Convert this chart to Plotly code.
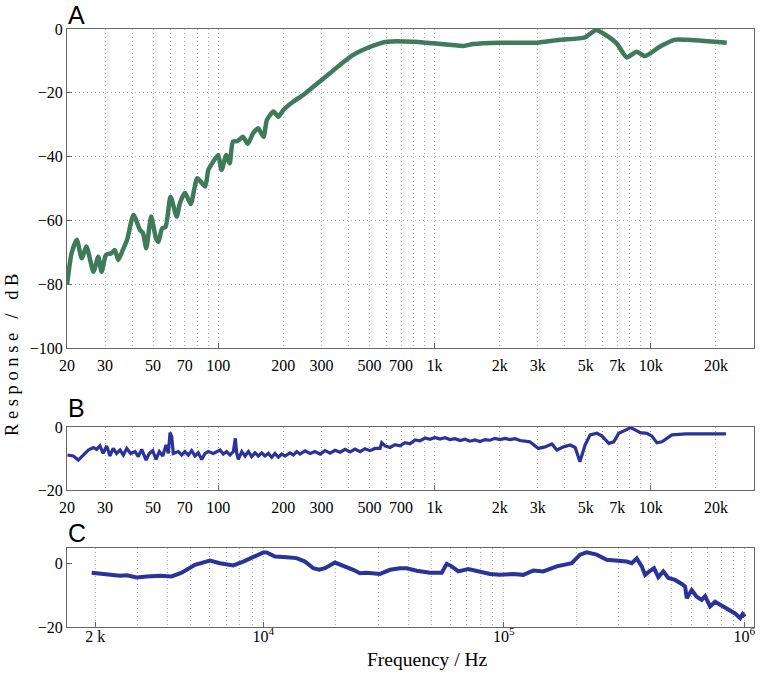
import plotly.graph_objects as go

# ---------------- data ----------------
# Panel A (green): frequency (Hz) and response (dB)
a_freq = [20, 21.0, 22.2, 23.4, 24.6, 26.5, 27.9, 28.9, 30.3, 32.1, 33.3, 34.5, 36.2, 37.9,
          40.6, 43.5, 44.9, 46.5, 49.0, 51.6, 53.0, 55.0, 57.1, 60.2, 64.3, 66.5, 70.2, 74.6,
          80.1, 87.0, 90.0, 94.8, 100, 103.6, 109, 113, 117, 123, 130, 137, 145, 153, 162,
          168, 180, 190, 200, 222, 247, 275, 294, 328, 365, 419, 483, 560, 601, 798, 988,
          1358, 1510, 2008, 2970, 3800, 4970, 5580, 6030, 6950, 7740, 8610, 9400, 11030,
          12850, 14560, 22440]
a_db = [-80.2, -70.3, -66.1, -71.9, -68.2, -76.1, -71.4, -76.1, -70.8, -70.3, -69.3, -72.4, -69.3, -66.1,
        -58.3, -63.0, -64.0, -68.7, -58.8, -65.6, -66.7, -62.5, -62.0, -52.6, -58.8, -54.6, -51.3, -54.9,
        -46.8, -49.4, -44.2, -41.6, -39.5, -44.2, -39.5, -42.1, -35.3, -35.1, -33.8, -36.0, -32.7, -31.1, -33.8,
        -28.5, -25.9, -27.5, -25.4, -22.8, -20.7, -18.1, -16.5, -13.9, -11.3, -8.2, -6.1, -4.5, -4.0, -4.0, -4.5,
        -5.3, -4.7, -4.3, -4.3, -3.4, -2.6, -0.3, -1.4, -4.5, -8.9, -7.1, -8.5, -5.5,
        -3.4, -3.4, -4.3]

# Panel B (blue): frequency (Hz) and response (dB)
b_freq = [20.1, 21.4, 22.55, 23.8, 25.1, 26.5, 27.4, 28.4, 29.4, 30.5, 31.6, 32.7, 33.9, 35.2,
          36.4, 37.8, 39.4, 41.3, 42.7, 44.3, 46.4, 48.0, 49.8, 51.6, 53.4, 55.4, 57.4, 58.8,
          59.9, 61.0, 62.0, 65.4, 67.8, 70.2, 72.8, 75.4, 78.1, 80.9, 83.9, 86.9, 90.0, 94.9,
          98.4, 102.0, 105.6, 109.5, 113.4, 117.5, 120.0, 121.8, 123.9, 128.5, 133.1, 137.9,
          142.9, 148.0, 153.3, 158.9, 164.6, 170.5, 176.8, 183.1, 189.7, 196.6, 203.7, 214.8,
          222.5, 230.7, 239, 252, 266, 280, 296, 312, 329, 347, 366, 386, 407, 429, 453, 477,
          503, 531, 560, 570, 590, 623, 657, 693, 731, 771, 813, 857, 904, 953, 1005, 1060,
          1118, 1179, 1244, 1312, 1384, 1459, 1539, 1623, 1712, 1805, 1904, 2008, 2118, 2234,
          2356, 2485, 2760, 3020, 3245, 3485, 3680, 3950, 4240, 4470, 4700, 4970, 5240, 5640,
          5950, 6390, 6740, 7110, 7640, 8060, 8500, 8950, 9600, 10120, 10670, 11250, 12520,
          14560, 18000, 22250]
b_db = [-8.9, -9.2, -10.5, -8.9, -7.3, -6.5, -7.1, -6.0, -8.4, -6.0, -9.2, -6.8, -8.4, -7.3,
        -8.9, -6.8, -8.4, -7.8, -9.4, -7.1, -10.5, -8.4, -7.5, -10.3, -7.8, -9.2, -5.7, -8.4,
        -1.8, -3.1, -8.4, -7.8, -8.9, -7.8, -8.9, -7.5, -9.2, -8.2, -10.3, -8.4, -7.8, -8.4,
        -7.8, -7.3, -8.6, -7.8, -8.9, -7.8, -3.6, -8.4, -10.3, -7.8, -9.2, -7.8,
        -9.4, -8.2, -9.2, -8.2, -9.2, -8.4, -9.6, -8.4, -9.6, -8.6, -9.2, -8.2,
        -8.9, -7.8, -8.6, -7.6, -8.4, -7.8, -8.6, -7.5, -8.3, -7.4, -8.0, -7.1, -7.9, -7.0, -7.8, -6.9,
        -7.5, -6.8, -6.8, -5.0, -6.0, -6.5, -5.6, -6.0, -5.0, -5.3, -4.1, -4.4, -3.5, -3.9, -3.3, -3.8,
        -3.4, -4.0, -3.7, -4.3, -3.9, -4.5, -4.1, -4.6, -4.0, -4.2, -3.6, -4.0, -3.6, -4.0,
        -3.7, -4.3, -4.7, -6.8, -6.3, -5.4, -7.3, -6.3, -5.7, -6.5, -11.0, -5.7, -2.5, -2.0,
        -2.9, -5.2, -4.7, -2.0, -1.0, -0.2, -1.0, -1.8, -2.0, -2.9, -5.0, -4.7, -2.5,
        -2.2, -2.2, -2.2]

# Panel C (blue): frequency (Hz) and response (dB)
c_freq = [1935, 2233, 2537, 2705, 2976, 3275, 3720, 4160, 4580, 5200, 5460, 6000, 6600, 7500,
          8260, 9080, 10000, 10330, 11190, 12510, 13760, 14910, 16140, 17090, 18050, 19860,
          21510, 23660, 25230, 26920, 30560, 33660, 37010, 39450, 43400, 49330, 55180, 57890,
          60730, 64700, 71170, 77100, 87630, 96400, 109500, 120500, 132700, 145900, 165900,
          191600, 207400, 221200, 243300, 267700, 304200, 324400, 340200, 356900, 374400,
          386500, 402700, 421200, 438700, 460200, 483000, 515200, 549300, 567000, 576000,
          604000, 633500, 664700, 686600, 720000, 755400, 805000, 857500, 914700, 959500,
          984000, 1006000]
c_db = [-2.8, -3.2, -3.8, -3.6, -4.3, -4.0, -3.8, -4.0, -2.8, -0.3, 0.2, 1.0, 0.2, -0.5,
        0.7, 2.3, 3.6, 3.6, 2.3, 2.1, 1.8, 0.7, -1.4, -1.9, -1.4, 0.4,
        -0.6, -1.9, -3.0, -2.8, -3.2, -1.9, -1.4, -1.4, -2.2, -2.8, -2.8, 0.0,
        -0.8, -2.4, -1.7, -2.4, -3.2, -3.5, -3.2, -3.5, -2.1, -2.4, -0.8,
        0.2, 2.9, 3.6, 2.9, 1.3, 1.0, 0.7, 0.2, 1.7, -0.8,
        -3.5, -2.4, -1.4, -4.2, -2.4, -4.5, -5.1, -6.4, -7.2, -10.9,
        -8.3, -10.4, -11.4, -10.2, -13.5, -12.0, -13.3, -14.4, -15.7, -17.2,
        -15.9, -16.7]

# Tick values / labels
ab_grid = [20, 30, 40, 50, 60, 70, 80, 90, 100, 200, 300, 400, 500, 600, 700, 800, 900,
           1000, 2000, 3000, 4000, 5000, 6000, 7000, 8000, 9000, 10000, 20000]
ab_labels = {20: "20", 30: "30", 50: "50", 70: "70", 100: "100", 200: "200", 300: "300",
             500: "500", 700: "700", 1000: "1k", 2000: "2k", 3000: "3k", 5000: "5k",
             7000: "7k", 10000: "10k", 20000: "20k"}
c_grid = [2000, 3000, 4000, 5000, 6000, 7000, 8000, 9000, 10000, 20000, 30000, 40000, 50000,
          60000, 70000, 80000, 90000, 100000, 200000, 300000, 400000, 500000, 600000, 700000,
          800000, 900000, 1000000]
c_labels = {2000: "2 k", 10000: "10<sup>4</sup>", 100000: "10<sup>5</sup>", 1000000: "10<sup>6</sup>"}

# ---------------- figure ----------------
W, H = 761, 674
GREEN = "#3f7a5c"
BLUE = "#2b3298"
SERIF = "Liberation Serif, Times New Roman, serif"
SANS = "Liberation Sans, Arial, sans-serif"
GRID = "#b0b0b0"
DOT = "1px,3px"

fig = go.Figure()
fig.add_trace(go.Scatter(x=a_freq, y=a_db, mode="lines", xaxis="x", yaxis="y",
                         line=dict(color=GREEN, width=4.5, shape="spline", smoothing=0.6),
                         showlegend=False))
fig.add_trace(go.Scatter(x=b_freq, y=b_db, mode="lines", xaxis="x2", yaxis="y2",
                         line=dict(color=BLUE, width=3.2), showlegend=False))
fig.add_trace(go.Scatter(x=c_freq, y=c_db, mode="lines", xaxis="x3", yaxis="y3",
                         line=dict(color=BLUE, width=4), showlegend=False))

def px_x(p):
    return p / W

def px_y(p):
    return 1 - p / H

xdom = [px_x(67), px_x(754)]

def common():
    return dict(showline=True, linecolor="#666", linewidth=1, mirror=True,
                automargin=False, zeroline=False,
                tickfont=dict(family=SERIF, size=16, color="black"))

def xaxis_ab(anchor):
    return dict(type="log", domain=xdom, anchor=anchor, range=[1.301, 4.477],
                tickmode="array", tickvals=ab_grid,
                ticktext=[ab_labels.get(v, "") for v in ab_grid],
                ticks="", showgrid=True, gridcolor=GRID, griddash=DOT, gridwidth=1,
                ticklabelstandoff=3,
                minor=dict(tickmode="array", tickvals=[100, 1000, 10000], ticks="inside",
                           ticklen=5, tickcolor="#666", showgrid=False),
                **common())

fig.update_layout(
    width=W, height=H, margin=dict(l=0, r=0, t=0, b=0),
    paper_bgcolor="white", plot_bgcolor="white",
    font=dict(family=SERIF, size=16, color="black"),
    xaxis=xaxis_ab("y"),
    yaxis=dict(domain=[px_y(348), px_y(29)], anchor="x", range=[-100, 0],
               tickmode="array", tickvals=[0, -20, -40, -60, -80, -100],
               ticks="inside", ticklen=5, tickcolor="#666",
               showgrid=True, gridcolor=GRID, griddash=DOT, **common()),
    xaxis2=xaxis_ab("y2"),
    yaxis2=dict(domain=[px_y(490), px_y(427)], anchor="x2", range=[-20, 0],
                tickmode="array", tickvals=[0, -20], ticks="inside", ticklen=5,
                tickcolor="#666", showgrid=False, **common()),
    xaxis3=dict(type="log", domain=xdom, anchor="y3", range=[3.184, 6.04],
                tickmode="array", tickvals=c_grid,
                ticktext=[c_labels.get(v, "") for v in c_grid],
                ticks="", showgrid=True, gridcolor=GRID, griddash=DOT, gridwidth=1,
                ticklabelstandoff=-5,
                minor=dict(tickmode="array", tickvals=[2000, 10000, 100000, 1000000],
                           ticks="inside", ticklen=5, tickcolor="#666", showgrid=False),
                **common()),
    yaxis3=dict(domain=[px_y(627), px_y(548)], anchor="x3", range=[-20, 5],
                tickmode="array", tickvals=[0, -20], ticks="inside", ticklen=5,
                tickcolor="#666", showgrid=False, **common()),
)

annotations = [
    dict(text="A", x=px_x(66), y=px_y(15), xanchor="left", yanchor="middle",
         font=dict(family=SANS, size=25, color="black")),
    dict(text="B", x=px_x(66), y=px_y(408), xanchor="left", yanchor="middle",
         font=dict(family=SANS, size=25, color="black")),
    dict(text="C", x=px_x(66), y=px_y(533), xanchor="left", yanchor="middle",
         font=dict(family=SANS, size=25, color="black")),
    dict(text="R e s p o n s e   /   d B", x=px_x(12), y=px_y(355), textangle=-90,
         xanchor="center", yanchor="middle",
         font=dict(family=SERIF, size=18.5, color="black")),
    dict(text="Frequency / Hz", x=px_x(427), y=px_y(659), xanchor="center", yanchor="middle",
         font=dict(family=SERIF, size=19.5, color="black")),
]
for a in annotations:
    a.update(xref="paper", yref="paper", showarrow=False)
fig.update_layout(annotations=annotations)

# remove the default page margin so the figure fills the window exactly
fig.write_html("out.html", config={"displayModeBar": False},
               post_script="document.body.style.margin='0px';document.body.style.overflow='hidden';")
